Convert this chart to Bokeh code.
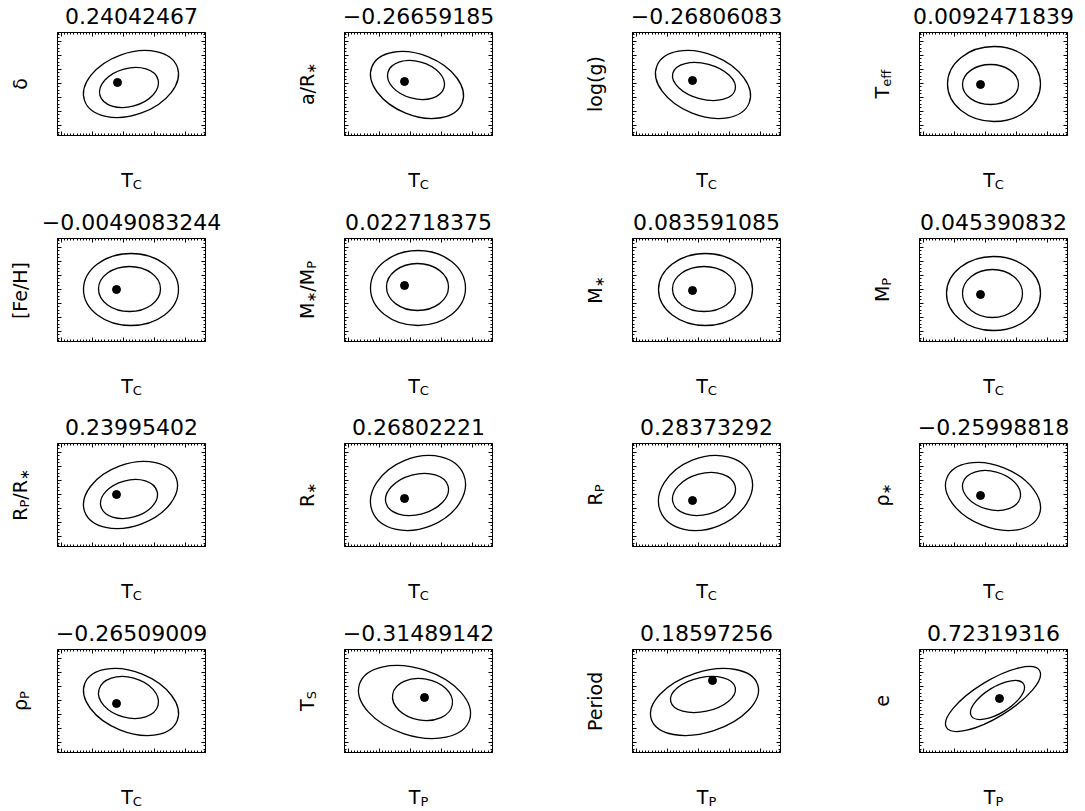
import math
import numpy as np
from bokeh.plotting import figure
from bokeh.models import Range1d, LinearAxis, FixedTicker, Label
from bokeh.layouts import column, row
from bokeh.embed import file_html
from bokeh.resources import INLINE

# ---------------- data ----------------
TITLES = ["0.24042467", "\u22120.26659185", "\u22120.26806083", "0.0092471839",
          "\u22120.0049083244", "0.022718375", "0.083591085", "0.045390832",
          "0.23995402", "0.26802221", "0.28373292", "\u22120.25998818",
          "\u22120.26509009", "\u22120.31489142", "0.18597256", "0.72319316"]

# label pieces: (text, is_subscript)
Y_LABELS = [
    [("\u03b4", 0)],
    [("a/R", 0), ("\u2217", 1)],
    [("log(g)", 0)],
    [("T", 0), ("eff", 1)],
    [("[Fe/H]", 0)],
    [("M", 0), ("\u2217", 1), ("/M", 0), ("P", 1)],
    [("M", 0), ("\u2217", 1)],
    [("M", 0), ("P", 1)],
    [("R", 0), ("P", 1), ("/R", 0), ("\u2217", 1)],
    [("R", 0), ("\u2217", 1)],
    [("R", 0), ("P", 1)],
    [("\u03c1", 0), ("\u2217", 1)],
    [("\u03c1", 0), ("P", 1)],
    [("T", 0), ("S", 1)],
    [("Period", 0)],
    [("e", 0)],
]
X_LABELS = [[("T", 0), ("C", 1)]] * 13 + [[("T", 0), ("P", 1)]] * 3

# contour outlines: centre, half extents, tilt (deg) in box pixel units
OUTER_CX = [73.5, 72.5, 70.5, 74.5, 73.5, 73.5, 73, 74, 73, 73.5, 73, 73.5, 73.5, 70, 72, 73.5]
OUTER_CY = [51.5, 50.5, 51, 51.5, 52, 53.5, 52, 48, 51.5, 53.5, 53.5, 50, 50.5, 50.5, 50.5, 53.5]
OUTER_HX = [47.5, 46.5, 47.5, 46.5, 47.5, 47.5, 47, 47, 47, 47.5, 47, 47.5, 47.5, 56, 54, 47.5]
OUTER_HY = [33.5, 33.5, 34, 37.5, 36, 37.5, 36, 37, 33.5, 37.5, 37.5, 34, 33.5, 36.5, 33.5, 32.5]
OUTER_TILT = [20, -22, -22, 0, 0, 0, 0, 0, 20, 22, 22, -22, -22, -18, 18, 31.5]
INNER_CX = [71.5, 71.5, 71.5, 71, 72, 73, 71.5, 73, 71.5, 72.5, 71.5, 72, 71, 78, 70.5, 78]
INNER_CY = [48, 55.5, 54, 51, 52.5, 54.5, 52.5, 48, 47.5, 52, 52.5, 56, 55, 53, 58, 52.5]
INNER_HX = [29.5, 28.5, 31.5, 28, 31, 31, 31.5, 30, 28.5, 31.5, 31.5, 29, 30, 30, 32.5, 27]
INNER_HY = [20, 19.5, 19, 20, 22.5, 23.5, 22.5, 24, 19.5, 21, 21.5, 20, 21, 21, 18, 19.5]
INNER_TILT = [15, -15, -15, 0, 0, 0, 0, 0, 15, 15, 15, -15, -15, -10, 12, 31.5]
DOT_X = [60, 60, 60, 61, 59, 60, 60, 61, 59, 60, 60, 61, 59, 80, 80, 80]
DOT_Y = [53, 54, 55, 51, 52, 56, 51, 47, 52, 48, 46, 51, 49, 55, 72, 54]

X_MAJOR = [4, 35, 66, 97, 128]
Y_MAJOR = [10.5, 24.5, 38.5, 52.5, 66.5, 80.5, 94.5]

# ---------------- layout constants ----------------
BOX_W, BOX_H = 148, 103
COL_W = [287, 287, 287, 224]
COL_L = [57, 57, 58, 58]
ROW_H = [206, 206, 206, 193]
ROW_T = [32, 32, 31, 31]
FONT = "DejaVu Sans"
LAB_SIZE, SUB_SIZE, SUB_DROP = 19, 13, 4.5
XLAB_BASE = -44     # below box bottom
YLAB_BASE = -38     # left of box left
TITLE_BASE = 17     # above box top

W = {'a': 0.613, '/': 0.337, 'R': 0.695, '\u2217': 0.838, 'l': 0.278, 'o': 0.612, 'g': 0.635,
     '(': 0.39, ')': 0.39, 'T': 0.611, 'e': 0.615, 'f': 0.352, '[': 0.39, ']': 0.39, 'F': 0.575,
     'H': 0.752, 'M': 0.863, 'P': 0.603, '\u03c1': 0.635, '\u03b4': 0.612, 'S': 0.635, 'C': 0.698,
     'r': 0.411, 'i': 0.278, 'd': 0.635}


def seg_w(text, size):
    return sum(W.get(ch, 0.6) for ch in text) * size


def make_label(**kw):
    lab = Label(text_align=kw.pop("align", "left"), text_baseline="alphabetic", **kw)
    lab.text_font = FONT
    lab.text_color = "black"
    return lab


def add_pieces(p, pieces, cx, cy, vertical):
    total = sum(seg_w(t, SUB_SIZE if s else LAB_SIZE) for t, s in pieces)
    pos = (cy if vertical else cx) - total / 2
    for k, (t, s) in enumerate(pieces):
        size = SUB_SIZE if s else LAB_SIZE
        if vertical:
            lab = make_label(x=cx + (SUB_DROP if s else 0), y=pos, text=t, angle=math.pi / 2)
            side = "left" if k < 2 else "right"
        else:
            lab = make_label(x=pos, y=cy - (SUB_DROP if s else 0), text=t)
            side = "below"
        lab.text_font_size = f"{size}px"
        p.add_layout(lab, side)
        pos += seg_w(t, size)


def style_axis(ax, ticks, minor):
    ax.ticker = FixedTicker(ticks=ticks, minor_ticks=minor)
    ax.major_label_text_font_size = "1px"
    ax.major_label_text_color = None
    ax.major_label_standoff = 0
    ax.major_tick_in = 4
    ax.major_tick_out = 0
    ax.minor_tick_in = 2
    ax.minor_tick_out = 0
    ax.axis_line_color = "black"
    ax.major_tick_line_color = "black"
    ax.minor_tick_line_color = "black"


x_minor = list(np.arange(0.9, BOX_W, 3.1))
y_minor = list(np.arange(3.5, BOX_H, 3.5))

rows = []
for r in range(4):
    figs = []
    for c in range(4):
        i = r * 4 + c
        p = figure(width=COL_W[c], height=ROW_H[r], output_backend="svg", toolbar_location=None,
                   x_range=Range1d(0, BOX_W), y_range=Range1d(0, BOX_H),
                   min_border_left=COL_L[c], min_border_right=COL_W[c] - COL_L[c] - BOX_W,
                   min_border_top=ROW_T[r], min_border_bottom=ROW_H[r] - ROW_T[r] - BOX_H,
                   background_fill_color="white", border_fill_color="white")
        p.outline_line_color = "black"
        p.outline_line_width = 1
        p.xgrid.visible = False
        p.ygrid.visible = False
        style_axis(p.xaxis[0], X_MAJOR, x_minor)
        style_axis(p.yaxis[0], Y_MAJOR, y_minor)
        ax_top = LinearAxis()
        style_axis(ax_top, X_MAJOR, x_minor)
        p.add_layout(ax_top, "above")
        ax_right = LinearAxis()
        style_axis(ax_right, Y_MAJOR, y_minor)
        p.add_layout(ax_right, "right")

        # ellipse sizes from bounding half-extents and tilt
        ws, hs, angs, xs, ys = [], [], [], [], []
        for cx, cy, hx, hy, tilt in [(OUTER_CX[i], OUTER_CY[i], OUTER_HX[i], OUTER_HY[i], OUTER_TILT[i]),
                                     (INNER_CX[i], INNER_CY[i], INNER_HX[i], INNER_HY[i], INNER_TILT[i])]:
            th = math.radians(tilt)
            cc, ss = math.cos(th) ** 2, math.sin(th) ** 2
            den = cc - ss
            a2 = (hx ** 2 * cc - hy ** 2 * ss) / den
            b2 = (hy ** 2 * cc - hx ** 2 * ss) / den
            ws.append(2 * math.sqrt(a2))
            hs.append(2 * math.sqrt(max(b2, 1)))
            angs.append(th)
            xs.append(cx)
            ys.append(cy)
        p.ellipse(x=xs, y=ys, width=ws, height=hs, angle=angs, fill_color=None,
                  line_color="black", line_width=1.3)
        p.scatter(x=[DOT_X[i]], y=[DOT_Y[i]], size=8, color="black")

        title = make_label(x=BOX_W / 2, y=BOX_H + TITLE_BASE, text=TITLES[i], align="center")
        title.text_font_size = "22px"
        p.add_layout(title, "above")

        add_pieces(p, X_LABELS[i], BOX_W / 2, XLAB_BASE, vertical=False)
        add_pieces(p, Y_LABELS[i], YLAB_BASE, BOX_H / 2, vertical=True)
        figs.append(p)
    rows.append(row(*figs, spacing=0))

layout = column(*rows, spacing=0)
open("out.html", "w").write(file_html(layout, INLINE))
